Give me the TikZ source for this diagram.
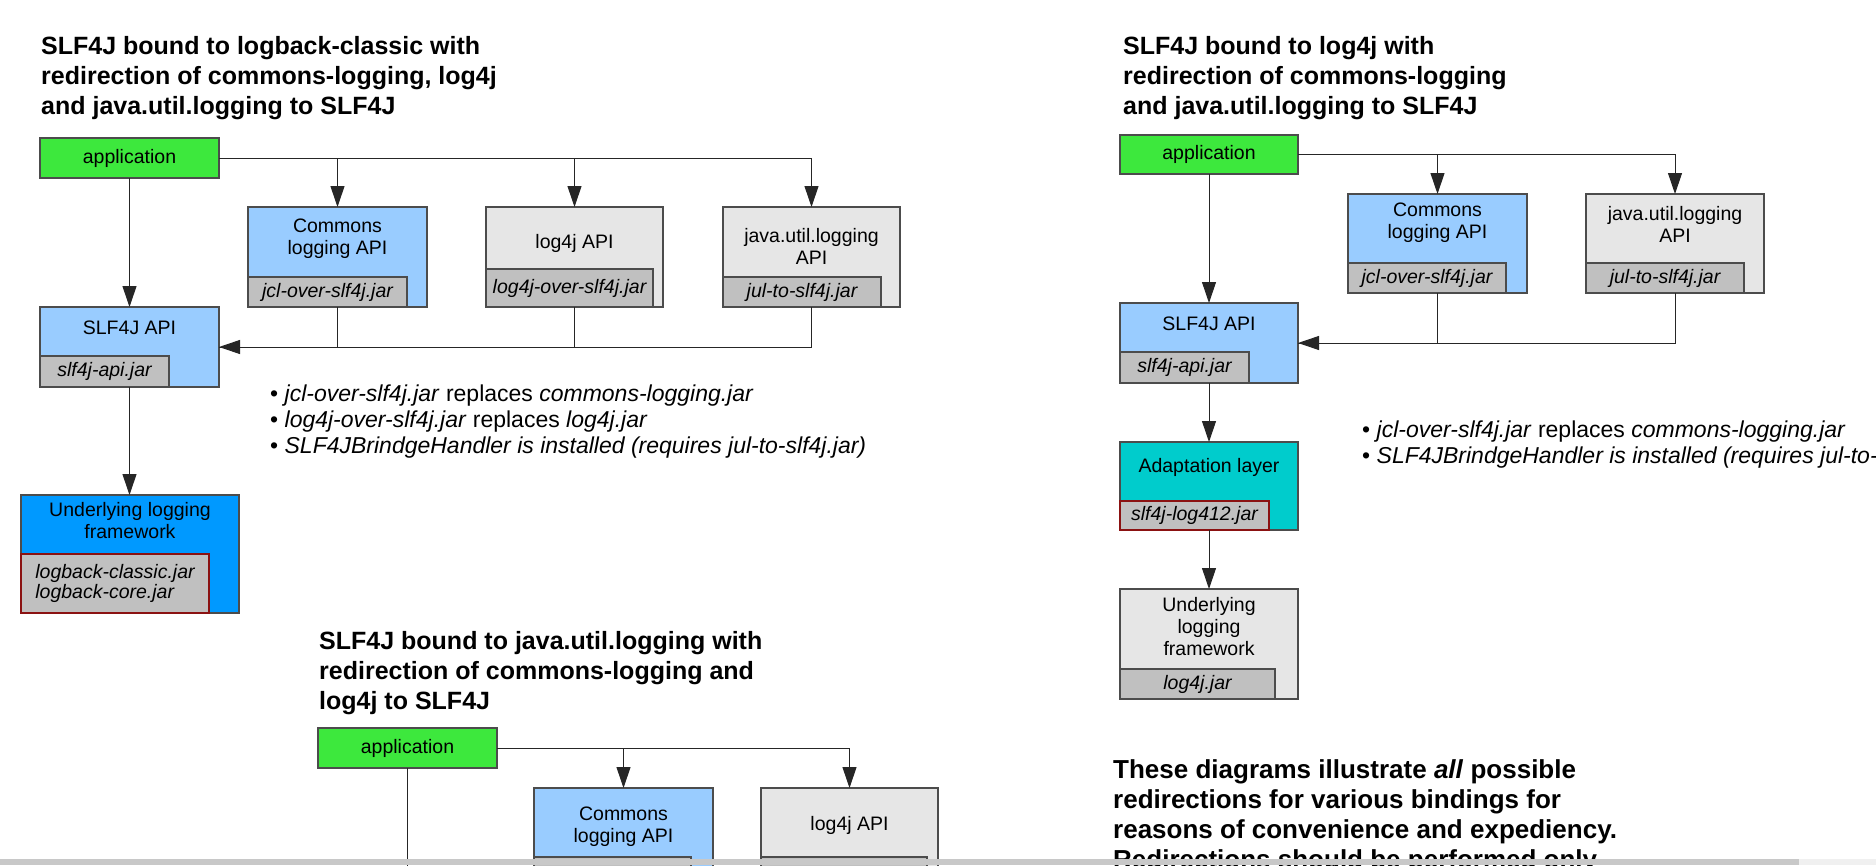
\documentclass[tikz,border=0pt]{standalone}
\usepackage{fontspec}
\setmainfont{Liberation Sans}
\usepackage{xcolor}
\usetikzlibrary{arrows.meta}

\definecolor{appgreen}{HTML}{3DE83D}
\definecolor{apiblue}{HTML}{99CCFF}
\definecolor{apigray}{HTML}{E6E6E6}
\definecolor{jargray}{HTML}{C0C0C0}
\definecolor{fwblue}{HTML}{0099FF}
\definecolor{adaptteal}{HTML}{00CCCC}
\definecolor{jarred}{HTML}{8B1212}
\definecolor{barbg}{HTML}{C8C8C8}

\newcommand{\boxsize}{\fontsize{19.5}{22}\selectfont}
\newcommand{\headsize}{\fontsize{25}{30}\selectfont}
\newcommand{\footsize}{\fontsize{26}{30}\selectfont}
\newcommand{\notesize}{\fontsize{23}{26}\selectfont}

\tikzset{
  box/.style={draw=black!70, line width=1.5pt, inner sep=0pt, outer sep=0pt, anchor=north west},
  jar/.style={draw=black!70, line width=1.5pt, fill=jargray, inner sep=0pt, outer sep=0pt, anchor=south west, font=\boxsize\itshape},
  redjar/.style={jar, draw=jarred},
  boxtext/.style={align=center, inner sep=0pt, font=\boxsize},
  flow/.style={draw=black!85, line width=1pt, -{Triangle[length=21pt,width=14pt]}},
  link/.style={draw=black!85, line width=1pt},
  heading/.style={anchor=base west, align=left, inner sep=0pt, font=\headsize\bfseries},
  notes/.style={anchor=base west, align=left, inner sep=0pt, font=\notesize},
}

\begin{document}
\begin{tikzpicture}[x=1pt, y=-1pt]
 \useasboundingbox (0,0) rectangle (1876,865);
 \fill[white] (0,0) rectangle (1876,865);

 % logback-classic
 \node[heading] (title1) at (41,114) {SLF4J bound to logback-classic with\\redirection of commons-logging, log4j\\and java.util.logging to SLF4J};
 \node[box, fill=appgreen, minimum width=179pt, minimum height=40pt, font=\boxsize] (app1) at (40,138) {application};
 \node[box, fill=apiblue, minimum width=179pt, minimum height=100pt] (cl1) at (248,207) {};
 \node[jar, minimum width=159pt, minimum height=30pt] (cl1jar) at (cl1.south west) {jcl-over-slf4j.jar};
 \node[boxtext] (cl1txt) at (337.5,239) {Commons\\logging API};
 \node[box, fill=apigray, minimum width=177pt, minimum height=100pt] (l4j1) at (486,207) {};
 \node[jar, minimum width=167pt, minimum height=38pt] (l4j1jar) at (l4j1.south west) {log4j-over-slf4j.jar};
 \node[boxtext] (l4j1txt) at (574.5,243) {log4j API};
 \node[box, fill=apigray, minimum width=177pt, minimum height=100pt] (jul1) at (723,207) {};
 \node[jar, minimum width=158pt, minimum height=30pt] (jul1jar) at (jul1.south west) {jul-to-slf4j.jar};
 \node[boxtext] (jul1txt) at (811.5,246) {java.util.logging\\API};
 \node[box, fill=apiblue, minimum width=179pt, minimum height=80pt] (slf1) at (40,307) {};
 \node[jar, minimum width=129pt, minimum height=31pt] (slf1jar) at (slf1.south west) {slf4j-api.jar};
 \node[boxtext] (slf1txt) at (129.5,328) {SLF4J API};
 \node[box, fill=fwblue, minimum width=218pt, minimum height=118pt] (ulf1) at (21,495) {};
 \node[redjar, minimum width=188pt, minimum height=59pt, align=left, font=\fontsize{19.5}{20}\selectfont\itshape] (ulf1jar) at (ulf1.south west) {logback-classic.jar\\logback-core.jar};
 \node[boxtext] (ulf1txt) at (130,520.5) {Underlying logging\\framework};
 \node[notes] (notes1) at (270,453) {• \textit{jcl-over-slf4j.jar} replaces \textit{commons-logging.jar}\\• \textit{log4j-over-slf4j.jar} replaces \textit{log4j.jar}\\• \textit{SLF4JBrindgeHandler is installed (requires jul-to-slf4j.jar)}};

 \draw[flow] (app1.south) -- (slf1.north);
 \draw[flow] (app1.east) -| (cl1.north);
 \draw[flow] (app1.east) -| (l4j1.north);
 \draw[flow] (app1.east) -| (jul1.north);
 \draw[link] (cl1.south) |- (slf1.east);
 \draw[link] (l4j1.south) |- (slf1.east);
 \draw[flow] (jul1.south) |- (slf1.east);
 \draw[flow] (slf1.south) -- (slf1.south |- ulf1.north);

 % log4j
 \node[heading] (title2) at (1123,114) {SLF4J bound to log4j with\\redirection of commons-logging\\and java.util.logging to SLF4J};
 \node[box, fill=appgreen, minimum width=178pt, minimum height=39pt, font=\boxsize] (app2) at (1120,135) {application};
 \node[box, fill=apiblue, minimum width=179pt, minimum height=99pt] (cl2) at (1348,194) {};
 \node[jar, minimum width=158pt, minimum height=30pt] (cl2jar) at (cl2.south west) {jcl-over-slf4j.jar};
 \node[boxtext] (cl2txt) at (1437.5,223) {Commons\\logging API};
 \node[box, fill=apigray, minimum width=178pt, minimum height=99pt] (jul2) at (1586,194) {};
 \node[jar, minimum width=158pt, minimum height=30pt] (jul2jar) at (jul2.south west) {jul-to-slf4j.jar};
 \node[boxtext] (jul2txt) at (1675,224.5) {java.util.logging\\API};
 \node[box, fill=apiblue, minimum width=178pt, minimum height=80pt] (slf2) at (1120,303) {};
 \node[jar, minimum width=129pt, minimum height=31pt] (slf2jar) at (slf2.south west) {slf4j-api.jar};
 \node[boxtext] (slf2txt) at (1209,324) {SLF4J API};
 \node[box, fill=adaptteal, minimum width=178pt, minimum height=88pt] (adapt2) at (1120,442) {};
 \node[redjar, minimum width=149pt, minimum height=29pt] (adapt2jar) at (adapt2.south west) {slf4j-log412.jar};
 \node[boxtext] (adapt2txt) at (1209,467) {Adaptation layer};
 \node[box, fill=apigray, minimum width=178pt, minimum height=110pt] (ulf2) at (1120,589) {};
 \node[jar, minimum width=155pt, minimum height=30pt] (ulf2jar) at (ulf2.south west) {log4j.jar};
 \node[boxtext] (ulf2txt) at (1209,627) {Underlying\\logging\\framework};
 \node[notes] (notes2) at (1362,463) {• \textit{jcl-over-slf4j.jar} replaces \textit{commons-logging.jar}\\• \textit{SLF4JBrindgeHandler is installed (requires jul-to-slf4j.jar)}};

 \draw[flow] (app2.south) -- (slf2.north);
 \draw[flow] (app2.east) -| (cl2.north);
 \draw[flow] (app2.east) -| (jul2.north);
 \draw[link] (cl2.south) |- (slf2.east);
 \draw[flow] (jul2.south) |- (slf2.east);
 \draw[flow] (slf2.south) -- (adapt2.north);
 \draw[flow] (adapt2.south) -- (ulf2.north);

 % java.util.logging
 \node[heading] (title3) at (319,709) {SLF4J bound to java.util.logging with\\redirection of commons-logging and\\log4j to SLF4J};
 \node[box, fill=appgreen, minimum width=179pt, minimum height=40pt, font=\boxsize] (app3) at (318,728) {application};
 \node[box, fill=apiblue, minimum width=179pt, minimum height=100pt] (cl3) at (534,788) {};
 \node[jar, minimum width=157pt, minimum height=31pt] (cl3jar) at (cl3.south west) {};
 \node[boxtext] (cl3txt) at (623.5,826.5) {Commons\\logging API};
 \node[box, fill=apigray, minimum width=177pt, minimum height=100pt] (l4j3) at (761,788) {};
 \node[jar, minimum width=166pt, minimum height=31pt] (l4j3jar) at (l4j3.south west) {};
 \node[boxtext] (l4j3txt) at (849.5,825) {log4j API};
 \coordinate (app3end) at (407.5,880);

 \draw[link] (app3.south) -- (app3end);
 \draw[flow] (app3.east) -| (cl3.north);
 \draw[flow] (app3.east) -| (l4j3.north);

 \node[anchor=base west, align=left, inner sep=0pt, font=\footsize\bfseries] (remark) at (1113,868) {These diagrams illustrate \textit{all} possible\\redirections for various bindings for\\reasons of convenience and expediency.\\Redirections should be performed only};

 \fill[barbg] (0,859) rectangle (1799,865);
 \fill[black!6] (1799,859) rectangle (1876,865);
\end{tikzpicture}
\end{document}
